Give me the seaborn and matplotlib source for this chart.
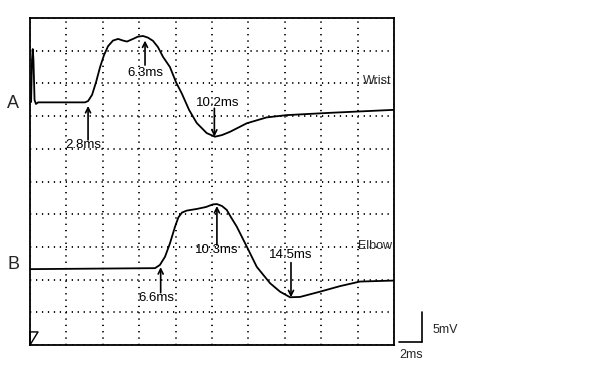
import matplotlib
matplotlib.use("Agg")
import matplotlib.pyplot as plt
import seaborn as sns
import pandas as pd

sns.set_theme(style="white")
plt.rcParams["font.family"] = ["Liberation Sans", "DejaVu Sans"]

# x in ms (2 ms per division), y in divisions (5 mV per division)
wrist_t = [0.06, 0.11, 0.15, 0.19, 0.25, 0.33, 0.44, 3.02, 3.19, 3.41, 3.63, 3.85, 4.07,
           4.29, 4.56, 4.84, 5.11, 5.33, 5.66, 5.93, 6.21, 6.48, 6.76, 7.03, 7.31, 7.69,
           8.02, 8.35, 8.74, 9.16, 9.71, 10.16, 10.55, 10.99, 11.91, 13.0, 14.1, 16.48, 19.95]
wrist_v = [7.43, 8.72, 9.05, 8.72, 7.49, 7.37, 7.42, 7.42, 7.46, 7.65, 8.04, 8.50, 8.87,
           9.14, 9.31, 9.36, 9.31, 9.28, 9.36, 9.43, 9.45, 9.40, 9.30, 9.11, 8.81, 8.50,
           8.04, 7.68, 7.19, 6.79, 6.48, 6.37, 6.42, 6.52, 6.78, 6.96, 7.03, 7.10, 7.19]

elbow_t = [0.0, 6.87, 7.14, 7.42, 7.69, 7.97, 8.15, 8.35, 8.61, 9.16, 9.67, 10.05, 10.27,
           10.55, 10.81, 11.04, 11.36, 11.91, 12.46, 13.19, 13.74, 14.29, 14.84, 15.93,
           17.03, 18.13, 19.95]
elbow_v = [2.32, 2.35, 2.45, 2.70, 3.11, 3.62, 3.90, 4.05, 4.11, 4.16, 4.22, 4.30, 4.31,
           4.25, 4.13, 3.91, 3.62, 3.01, 2.39, 1.89, 1.63, 1.46, 1.47, 1.63, 1.80, 1.94, 1.97]

# latency markers: label, label pos, arrow tail, arrow tip
lat_labels = ["2.8ms", "6.3ms", "10.2ms", "6.6ms", "10.3ms", "14.5ms"]
lat_label_x = [2.91, 6.32, 10.29, 6.92, 10.27, 14.32]
lat_label_y = [6.12, 8.33, 7.41, 1.43, 2.91, 2.75]
lat_x = [3.19, 6.32, 10.13, 7.18, 10.27, 14.34]
lat_tail_y = [6.27, 8.56, 7.24, 1.60, 3.06, 2.52]
lat_tip_y = [7.31, 9.31, 6.37, 2.38, 4.25, 1.46]

wrist = pd.DataFrame({"t": wrist_t, "v": wrist_v})
elbow = pd.DataFrame({"t": elbow_t, "v": elbow_v})

fig = plt.figure(figsize=(6.11, 3.67), dpi=100)
ax = fig.add_axes([30 / 611, 22 / 367, 364 / 611, 327 / 367])

sns.lineplot(data=wrist, x="t", y="v", ax=ax, color="black", lw=1.3, sort=False)
sns.lineplot(data=elbow, x="t", y="v", ax=ax, color="black", lw=1.3, sort=False)

ax.set_xlim(0, 20)
ax.set_ylim(0, 10)
ax.set_xticks(range(0, 21, 2))
ax.set_yticks(range(0, 11))
ax.tick_params(length=0, labelbottom=False, labelleft=False)
ax.set_xlabel("")
ax.set_ylabel("")
ax.xaxis.grid(True, color="black", lw=1.3, linestyle=(0, (0.7, 2.8)))
ax.yaxis.grid(True, color="black", lw=1.3, linestyle=(0, (0.7, 2.6)))
for s in ax.spines.values():
    s.set_color("black")
    s.set_linewidth(1.3)

for lab, lx, ly, x, y0, y1 in zip(lat_labels, lat_label_x, lat_label_y, lat_x, lat_tail_y, lat_tip_y):
    ax.annotate("", xy=(x, y1), xytext=(x, y0),
                arrowprops=dict(arrowstyle="->", color="black", lw=1.2,
                                shrinkA=0, shrinkB=0, mutation_scale=9))
    ax.text(lx, ly, lab, ha="center", va="center", fontsize=9.5, color="black")

ax.text(19.87, 8.07, "Wrist", ha="right", va="center", fontsize=9)
ax.text(19.87, 3.03, "Elbow", ha="right", va="center", fontsize=9)

# trigger marker
ax.plot([0, 0.44, 0, 0], [0.4, 0.4, 0, 0.4], color="black", lw=1.0, clip_on=False)

fig.text(0.0218, 0.719, "A", fontsize=13, ha="center", va="center")
fig.text(0.0218, 0.278, "B", fontsize=13, ha="center", va="center")

# scale bar
fig.add_artist(plt.Line2D([0.6907, 0.6907], [0.149, 0.0673], color="black", lw=1.2))
fig.add_artist(plt.Line2D([0.6535, 0.6907], [0.0673, 0.0673], color="black", lw=1.2))
fig.text(0.708, 0.1008, "5mV", fontsize=9, va="center", ha="left")
fig.text(0.653, 0.0327, "2ms", fontsize=9, va="center", ha="left")

fig.savefig("out.png", dpi=100, facecolor="white")
